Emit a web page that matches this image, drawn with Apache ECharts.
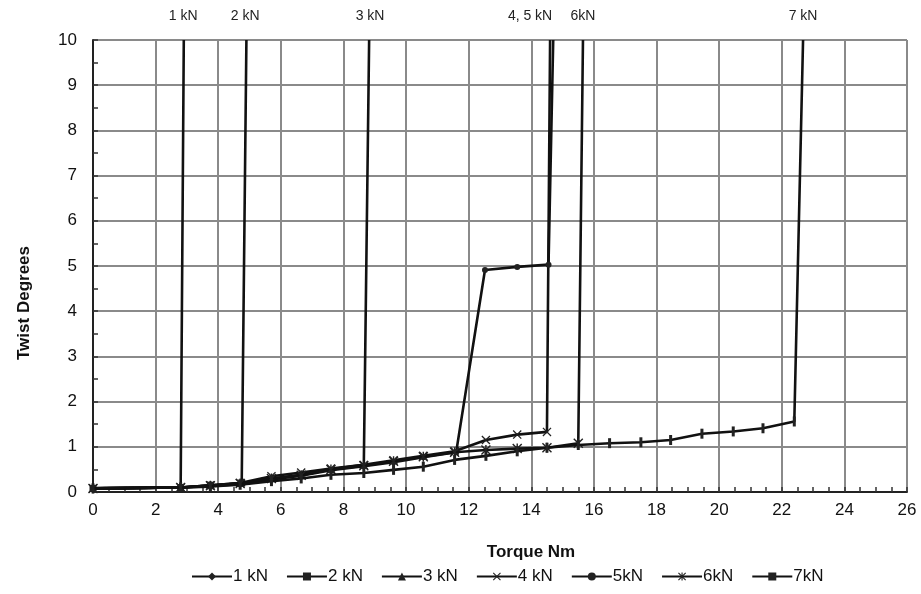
<!DOCTYPE html>
<html>
<head>
<meta charset="utf-8">
<script src="https://cdn.jsdelivr.net/npm/echarts@6/dist/echarts.min.js"></script>
<style>html,body{margin:0;padding:0;background:#fff}#c{width:921px;height:594px}</style>
</head>
<body>
<div id="c"></div>
<script>
const seriesNames = ['1 kN', '2 kN', '3 kN', '4 kN', '5kN', '6kN', '7kN'];
const s1x = [0, 2.8, 2.9];
const s1y = [0.08, 0.1, 10];
const s2x = [0, 2.8, 3.75, 4.75, 4.9];
const s2y = [0.08, 0.1, 0.15, 0.2, 10];
const s3x = [0, 2.8, 3.75, 4.7, 5.7, 6.65, 7.6, 8.65, 8.82];
const s3y = [0.08, 0.1, 0.14, 0.19, 0.3, 0.38, 0.5, 0.6, 10];
const s4x = [0, 2.8, 3.75, 4.7, 5.7, 6.65, 7.6, 8.65, 9.6, 10.55, 11.55, 12.55, 13.55, 14.5, 14.6];
const s4y = [0.08, 0.1, 0.15, 0.2, 0.35, 0.43, 0.52, 0.6, 0.7, 0.8, 0.9, 1.15, 1.27, 1.33, 10];
const s5x = [0, 2.8, 3.75, 4.7, 5.7, 6.65, 7.6, 8.65, 9.6, 10.55, 11.6, 12.52, 13.55, 14.55, 14.7];
const s5y = [0.08, 0.1, 0.13, 0.18, 0.28, 0.36, 0.48, 0.57, 0.66, 0.77, 0.88, 4.91, 4.98, 5.03, 10];
const s6x = [0, 2.8, 3.75, 4.7, 5.7, 6.65, 7.6, 8.65, 9.6, 10.55, 11.55, 12.55, 13.55, 14.5, 15.5, 15.65];
const s6y = [0.08, 0.1, 0.14, 0.19, 0.3, 0.37, 0.5, 0.58, 0.68, 0.78, 0.88, 0.93, 0.96, 0.98, 1.08, 10];
const s7x = [0, 2.8, 3.75, 4.7, 5.7, 6.65, 7.6, 8.65, 9.6, 10.55, 11.55, 12.55, 13.55, 14.5, 15.5, 16.5, 17.5, 18.45, 19.45, 20.45, 21.4, 22.4, 22.68];
const s7y = [0.08, 0.1, 0.12, 0.16, 0.24, 0.3, 0.38, 0.42, 0.49, 0.56, 0.71, 0.8, 0.9, 0.98, 1.04, 1.08, 1.1, 1.15, 1.29, 1.34, 1.41, 1.56, 10];
const topLabelText = ['1 kN', '2 kN', '3 kN', '4, 5 kN', '6kN', '7 kN'];
const topLabelX = [2.88, 4.86, 8.85, 13.96, 15.65, 22.68];
const xTicks = [0, 2, 4, 6, 8, 10, 12, 14, 16, 18, 20, 22, 24, 26];
const yTicks = [0, 1, 2, 3, 4, 5, 6, 7, 8, 9, 10];

const allX = [s1x, s2x, s3x, s4x, s5x, s6x, s7x];
const allY = [s1y, s2y, s3y, s4y, s5y, s6y, s7y];

const symX = 'path://M0,1L1,0L10,9L9,10Z M9,0L10,1L1,10L0,9Z';
const symStar = 'path://M0,1L1,0L10,9L9,10Z M9,0L10,1L1,10L0,9Z M4.3,0L5.7,0L5.7,10L4.3,10Z';
const symBar = 'path://M4,0L6,0L6,10L4,10Z';
const symbols = ['diamond', 'rect', 'triangle', symX, 'circle', symStar, symBar];
const symSizes = [6, 7, 7, 9, 6, 10, [3, 10]];

const chart = echarts.init(document.getElementById('c'), null, {renderer: 'canvas'});
const font = '"Liberation Sans", Arial, sans-serif';

const series = seriesNames.map((name, i) => ({
  name: name,
  type: 'line',
  data: allX[i].map((x, j) => [x, allY[i][j]]),
  symbol: symbols[i],
  symbolSize: symSizes[i],
  showAllSymbol: true,
  clip: true,
  z: 3 + i,
  lineStyle: {color: '#111', width: 2.6},
  itemStyle: {color: '#222', borderColor: '#222', borderWidth: 0},
  emphasis: {disabled: true},
  animation: false
}));
series.forEach(s => {
  s.data = s.data.map((d, j, arr) => j === arr.length - 1 ? {value: d, symbol: 'none'} : d);
});

chart.setOption({
  animation: false,
  backgroundColor: '#fff',
  grid: {left: 93, right: 14, top: 40, bottom: 102, containLabel: false},
  xAxis: {
    type: 'value', min: xTicks[0], max: xTicks[xTicks.length - 1], interval: 2,
    name: 'Torque Nm', nameLocation: 'middle', nameGap: 52,
    nameTextStyle: {fontFamily: font, fontWeight: 'bold', fontSize: 17, color: '#111', padding: [0, 0, 0, 62]},
    axisLine: {show: true, lineStyle: {color: '#222', width: 2}},
    axisTick: {show: true, inside: true, length: 5, lineStyle: {color: '#333', width: 1.5}},
    minorTick: {show: true, splitNumber: 4, length: 5, lineStyle: {color: '#333', width: 1.5}},
    axisLabel: {fontFamily: font, fontSize: 17, color: '#111', margin: 10},
    splitLine: {show: true, lineStyle: {color: '#8a8a8a', width: 2}}
  },
  yAxis: {
    type: 'value', min: yTicks[0], max: yTicks[yTicks.length - 1], interval: 1,
    name: 'Twist Degrees', nameLocation: 'middle', nameGap: 60, nameRotate: 90,
    nameTextStyle: {fontFamily: font, fontWeight: 'bold', fontSize: 17, color: '#111', padding: [0, 74, 0, 0]},
    axisLine: {show: true, lineStyle: {color: '#222', width: 2}},
    axisTick: {show: true, inside: true, length: 5, lineStyle: {color: '#333', width: 1.5}},
    minorTick: {show: true, splitNumber: 2, length: 5, lineStyle: {color: '#333', width: 1.5}},
    axisLabel: {fontFamily: font, fontSize: 17, color: '#111', margin: 16},
    splitLine: {show: true, lineStyle: {color: '#8a8a8a', width: 2}}
  },
  legend: {
    bottom: 4, left: 186,
    itemWidth: 40, itemHeight: 10, itemGap: 18,
    textStyle: {fontFamily: font, fontSize: 17, color: '#111', padding: [0, 0, 0, -4]},
    data: seriesNames
  },
  series: series
});

const graphics = topLabelText.map((t, i) => {
  const px = chart.convertToPixel({gridIndex: 0}, [topLabelX[i], 10]);
  return {
    type: 'text', x: px[0], y: 16,
    style: {text: t, fontFamily: font, fontSize: 14, fill: '#222', align: 'center', verticalAlign: 'middle'}
  };
});
chart.setOption({graphic: graphics});
</script>
</body>
</html>
